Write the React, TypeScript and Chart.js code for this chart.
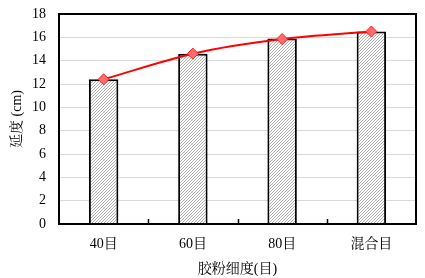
import React, { useEffect, useRef } from "react";
import { Chart, registerables } from "chart.js";

Chart.register(...registerables);

const categories = ["40目", "60目", "80目", "混合目"];
const barValues = [12.4, 14.6, 15.9, 16.5];
const lineValues = [12.4, 14.6, 15.85, 16.5];
const yTicks = [0, 2, 4, 6, 8, 10, 12, 14, 16, 18];

const FONT = "Liberation Serif, Noto Serif CJK SC, Noto Sans CJK SC, serif";

function makePattern(): CanvasPattern | string {
  const s = 3;
  const c = document.createElement("canvas");
  c.width = s;
  c.height = s;
  const ctx = c.getContext("2d");
  if (!ctx) return "#ccc";
  ctx.fillStyle = "#fff";
  ctx.fillRect(0, 0, s, s);
  ctx.strokeStyle = "#9a9a9a";
  ctx.lineWidth = 0.8;
  ctx.beginPath();
  ctx.moveTo(0, s);
  ctx.lineTo(s, 0);
  ctx.moveTo(-1, 1);
  ctx.lineTo(1, -1);
  ctx.moveTo(s - 1, s + 1);
  ctx.lineTo(s + 1, s - 1);
  ctx.stroke();
  const p = ctx.createPattern(c, "repeat");
  return p || "#ccc";
}

const framePlugin = {
  id: "frame",
  afterDatasetsDraw(chart: any) {
    const { ctx, chartArea } = chart;
    const { left, right, top, bottom } = chartArea;
    ctx.save();
    ctx.strokeStyle = "#000";
    ctx.lineWidth = 2;
    ctx.strokeRect(left, top, right - left, bottom - top);
    const n = categories.length;
    const w = (right - left) / n;
    ctx.lineWidth = 1.5;
    ctx.beginPath();
    for (let i = 1; i < n; i++) {
      const x = Math.round(left + w * i) + 0.5;
      ctx.moveTo(x, bottom);
      ctx.lineTo(x, bottom - 5);
    }
    ctx.stroke();
    ctx.restore();
  },
};

export default function App() {
  const ref = useRef<HTMLCanvasElement>(null);
  useEffect(() => {
    if (!ref.current) return;
    Chart.defaults.color = "#000";
    const chart = new Chart(ref.current, {
      type: "bar",
      data: {
        labels: categories,
        datasets: [
          {
            type: "line",
            data: lineValues,
            borderColor: "#ff0000",
            borderWidth: 2,
            tension: 0.4,
            cubicInterpolationMode: "monotone",
            pointStyle: "rectRot",
            pointRadius: 5.5,
            pointBackgroundColor: "#ff6b6b",
            pointBorderColor: "#ff2020",
            pointBorderWidth: 1,
            order: 0,
          } as any,
          {
            type: "bar",
            data: barValues,
            backgroundColor: makePattern() as any,
            borderColor: "#000",
            borderWidth: 2,
            barPercentage: 0.33,
            categoryPercentage: 1,
            order: 1,
          },
        ],
      },
      options: {
        animation: false,
        responsive: false,
        maintainAspectRatio: false,
        layout: { padding: { left: 0, right: 9, top: 14, bottom: 0 } },
        plugins: { legend: { display: false }, tooltip: { enabled: false } },
        scales: {
          x: {
            grid: { display: false },
            border: { display: false },
            ticks: { font: { family: FONT, size: 14 }, padding: 4, color: "#000" },
            title: {
              display: true,
              text: "胶粉细度(目)",
              font: { family: FONT, size: 14 },
              color: "#000",
              padding: { top: 6, bottom: 0 },
            },
            afterFit(s: any) {
              s.height = 54;
            },
          },
          y: {
            min: 0,
            max: 18,
            afterBuildTicks(s: any) {
              s.ticks = yTicks.map((v) => ({ value: v }));
            },
            grid: {
              color: "#d9d9d9",
              lineWidth: 1,
              drawTicks: true,
              tickLength: 13,
              tickColor: "rgba(0,0,0,0)",
            },
            border: { display: false },
            ticks: { font: { family: FONT, size: 14 }, padding: 0, color: "#000" },
            title: {
              display: true,
              text: "延度 (cm)",
              font: { family: FONT, size: 14 },
              color: "#000",
              padding: { top: 9, bottom: 0 },
            },
            afterFit(s: any) {
              s.width = 59;
            },
          },
        },
      },
      plugins: [framePlugin],
    });
    return () => chart.destroy();
  }, []);
  return (
    <div style={{ position: "absolute", left: 0, top: 0, width: 425, height: 278, background: "#fff" }}>
      <canvas ref={ref} width={425} height={278} style={{ width: 425, height: 278 }} />
    </div>
  );
}
